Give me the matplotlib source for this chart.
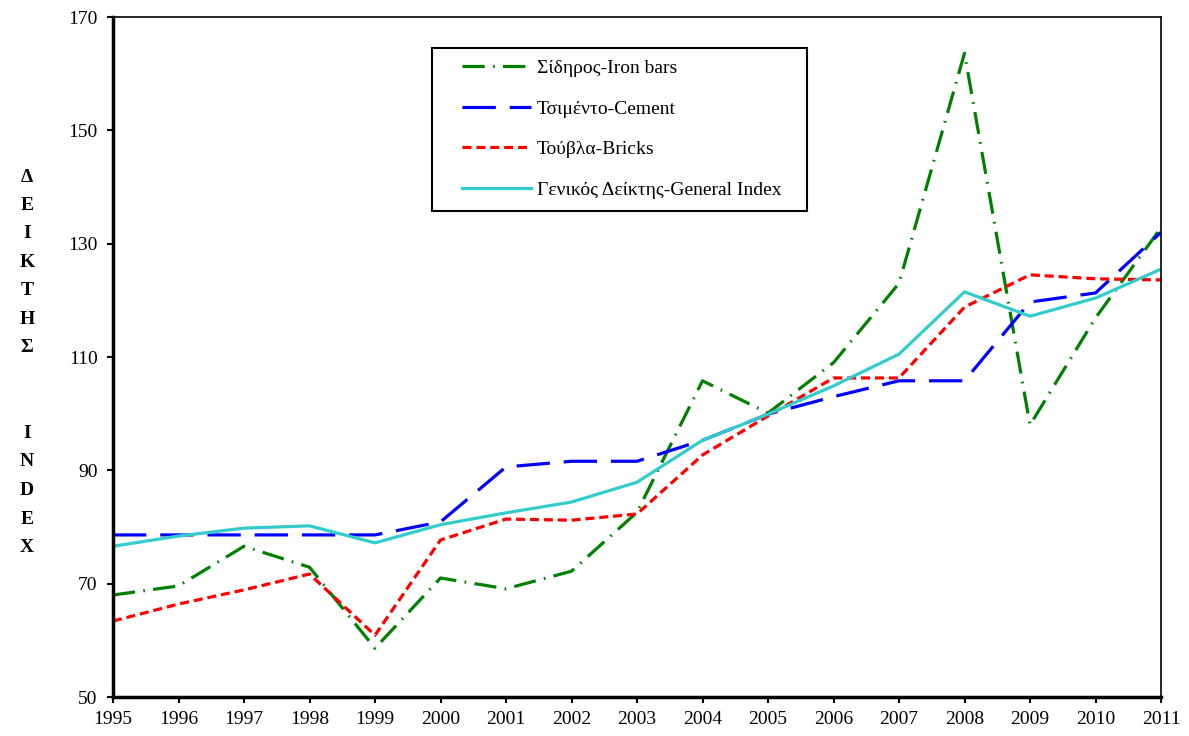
import matplotlib
matplotlib.use("Agg")
import matplotlib.pyplot as plt
from matplotlib.patches import Rectangle

plt.rcParams['font.family'] = ['Liberation Serif', 'DejaVu Serif']
plt.rcParams['lines.scale_dashes'] = False

years = list(range(1995, 2012))
iron = [68.0, 69.6, 76.6, 72.9, 58.6, 71.0, 69.1, 72.2, 82.6, 105.8, 100.1, 109.0, 123.0, 163.6, 98.0, 116.9, 132.8]
cement = [78.6, 78.6, 78.6, 78.6, 78.6, 80.9, 90.6, 91.6, 91.6, 95.3, 99.9, 103.0, 105.8, 105.8, 119.7, 121.3, 132.0]
bricks = [63.4, 66.4, 68.9, 71.7, 60.9, 77.7, 81.4, 81.2, 82.3, 92.7, 99.6, 106.3, 106.3, 118.8, 124.5, 123.8, 123.6]
general = [76.6, 78.4, 79.8, 80.2, 77.2, 80.4, 82.5, 84.4, 87.9, 95.3, 99.9, 104.9, 110.5, 121.5, 117.2, 120.4, 125.5]

labels = ['Σίδηρος-Iron bars', 'Τσιμέντο-Cement', 'Τούβλα-Bricks', 'Γενικός Δείκτης-General Index']
yticks = [50, 70, 90, 110, 130, 150, 170]
ylabel_letters = ['Δ', 'Ε', 'Ι', 'Κ', 'Τ', 'Η', 'Σ', '', '', 'Ι', 'Ν', 'D', 'Ε', 'Χ']

W, H = 1189, 736
fig = plt.figure(figsize=(W / 100, H / 100), dpi=100)
ax = fig.add_axes([113 / W, 1 - 697 / H, (1161 - 113) / W, (697 - 17) / H])

lw = 2.3
ax.plot(years, iron, color='#008000', lw=lw, dashes=(16, 6, 1.2, 6), label=labels[0])
ax.plot(years, cement, color='#0000FF', lw=lw, dashes=(24, 10), label=labels[1])
ax.plot(years, bricks, color='#FF0000', lw=lw, dashes=(6.5, 3.5), label=labels[2])
ax.plot(years, general, color='#33CCCC', lw=lw, label=labels[3])

ax.set_xlim(1995, 2011)
ax.set_ylim(50, 170)
ax.set_xticks(years)
ax.set_yticks(yticks)
ax.tick_params(axis='both', labelsize=14, direction='out', length=4, width=1.5)
ax.tick_params(axis='y', pad=7)
ax.tick_params(axis='x', pad=6)

for s in ['left', 'bottom']:
    ax.spines[s].set_linewidth(2.5)
for s in ['top', 'right']:
    ax.spines[s].set_linewidth(1.2)


def fx(px):
    return (px - 113) / 1048


def fy(py):
    return (697 - py) / 680


leg = ax.legend(loc='center', bbox_to_anchor=(fx(622), fy(129)),
                fontsize=14, handlelength=3.55, labelspacing=1.18, borderpad=0,
                handletextpad=0.3, frameon=False, borderaxespad=0)
ax.add_patch(Rectangle((fx(432), fy(211)), fx(807) - fx(432), fy(48) - fy(211),
                       transform=ax.transAxes, fill=False, edgecolor='black',
                       linewidth=1.5, zorder=4))

y0 = 177
for i, ch in enumerate(ylabel_letters):
    if ch:
        fig.text(27 / W, 1 - (y0 + i * 28.5) / H, ch, ha='center', va='center',
                 fontsize=14, fontweight='bold')

fig.savefig('out.png', dpi=100)
